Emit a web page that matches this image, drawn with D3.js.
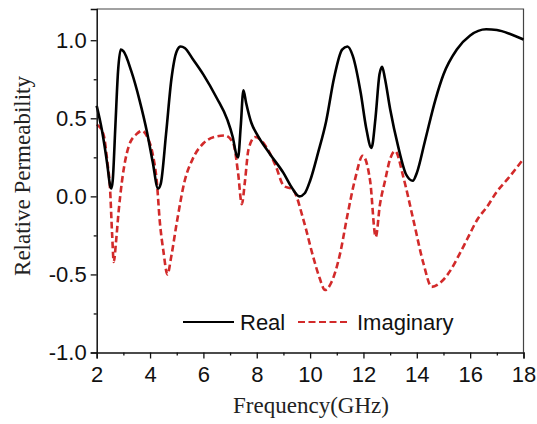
<!DOCTYPE html>
<html>
<head>
<meta charset="utf-8">
<script src="https://cdn.jsdelivr.net/npm/d3@7"></script>
<style>
  body { margin: 0; background: #fff; }
  .tick text { font-family: "Liberation Sans", Arial, sans-serif; font-size: 22px; fill: #111; }
</style>
</head>
<body>
<div id="chart"></div>
<script>
// frequency (GHz) and the two parts of the permeability
var realFreq = [2.0, 2.2, 2.4, 2.5, 2.55, 2.6, 2.7, 2.8, 2.9, 3.0, 3.3, 3.6, 3.9, 4.1, 4.3, 4.4, 4.6, 4.8, 5.0, 5.15,
  5.3, 5.6, 6.0, 6.5, 6.9, 7.1, 7.25, 7.3, 7.4, 7.5, 7.6, 7.8, 8.0, 8.5, 9.0, 9.3, 9.6, 9.8, 10.0, 10.3,
  10.6, 10.9, 11.2, 11.4, 11.6, 11.9, 12.1, 12.3, 12.45, 12.6, 12.7, 12.8, 13.0, 13.3, 13.6, 13.85, 14.0, 14.3, 14.7, 15.0,
  15.5, 16.0, 16.6, 17.0, 17.5, 18.0];
var realVal = [0.58, 0.42, 0.20, 0.07, 0.05, 0.10, 0.45, 0.80, 0.94, 0.93, 0.80, 0.62, 0.40, 0.22, 0.05, 0.08, 0.40, 0.75, 0.93, 0.96,
  0.95, 0.88, 0.78, 0.63, 0.49, 0.38, 0.26, 0.25, 0.45, 0.68, 0.60, 0.47, 0.40, 0.27, 0.15, 0.06, 0.0, 0.02, 0.10, 0.28,
  0.48, 0.76, 0.94, 0.96, 0.90, 0.66, 0.44, 0.31, 0.50, 0.78, 0.83, 0.76, 0.56, 0.32, 0.14, 0.10, 0.15, 0.35, 0.62, 0.78,
  0.94, 1.03, 1.07, 1.065, 1.04, 1.005];

var imagFreq = [2.0, 2.25, 2.4, 2.5, 2.58, 2.64, 2.72, 2.82, 2.95, 3.2, 3.5, 3.7, 3.9, 4.1, 4.25, 4.37, 4.5, 4.65, 4.8, 5.0,
  5.3, 5.6, 6.0, 6.4, 6.8, 7.12, 7.3, 7.44, 7.56, 7.69, 7.94, 8.3, 8.7, 9.0, 9.37, 9.75, 10.12, 10.35, 10.56, 10.8,
  11.12, 11.4, 11.7, 11.97, 12.25, 12.46, 12.62, 12.81, 13.0, 13.19, 13.5, 13.87, 14.25, 14.56, 14.9, 15.2, 15.6, 15.9, 16.3, 16.62,
  17.0, 17.4, 18.0];
var imagVal = [0.46, 0.40, 0.22, 0.05, -0.25, -0.42, -0.30, -0.10, 0.10, 0.32, 0.40, 0.42, 0.38, 0.27, 0.10, -0.17, -0.35, -0.50, -0.38, -0.17,
  0.10, 0.24, 0.34, 0.38, 0.39, 0.34, 0.15, -0.05, 0.10, 0.30, 0.38, 0.33, 0.20, 0.07, 0.04, -0.15, -0.39, -0.52, -0.60, -0.55,
  -0.37, -0.12, 0.12, 0.26, 0.10, -0.26, -0.05, 0.10, 0.24, 0.29, 0.12, -0.15, -0.43, -0.58, -0.55, -0.49, -0.37, -0.27, -0.14, -0.07,
  0.03, 0.11, 0.24];

var xMajor = [2, 4, 6, 8, 10, 12, 14, 16, 18];
var xMinor = [3, 5, 7, 9, 11, 13, 15, 17];
var yMajor = [-1.0, -0.5, 0.0, 0.5, 1.0];
var yMinor = [-0.75, -0.25, 0.25, 0.75];

var W = 537, H = 424;
var pLeft = 96.7, pRight = 523.5, pTop = 9, pBottom = 352.5;

var svg = d3.select("#chart").append("svg")
  .attr("width", W)
  .attr("height", H);

var x = d3.scaleLinear().domain([2, 18]).range([pLeft, pRight]);
var y = d3.scaleLinear().domain([-1, 1.2]).range([pBottom, pTop]);

// frame on top and right
svg.append("path")
  .attr("d", "M" + pLeft + "," + pTop + "H" + pRight + "V" + pBottom)
  .attr("fill", "none")
  .attr("stroke", "#444")
  .attr("stroke-width", 1.2);

var line = d3.line()
  .x(function(d) { return x(d[0]); })
  .y(function(d) { return y(d[1]); })
  .curve(d3.curveMonotoneX);

var imag = d3.zip(imagFreq, imagVal);
var real = d3.zip(realFreq, realVal);

svg.append("path")
  .datum(imag)
  .attr("d", line)
  .attr("fill", "none")
  .attr("stroke", "#d22a2a")
  .attr("stroke-width", 2.6)
  .attr("stroke-dasharray", "6.5,3.5");

svg.append("path")
  .datum(real)
  .attr("d", line)
  .attr("fill", "none")
  .attr("stroke", "#000")
  .attr("stroke-width", 2.6);

// axes: minor ticks first, then major with labels
var xMin = svg.append("g")
  .attr("transform", "translate(0," + pBottom + ")")
  .call(d3.axisBottom(x).tickValues(xMinor).tickSize(3).tickFormat(""));
var xAxis = svg.append("g")
  .attr("transform", "translate(0," + pBottom + ")")
  .call(d3.axisBottom(x).tickValues(xMajor).tickSize(6).tickPadding(8).tickFormat(d3.format("d")));

var yMin = svg.append("g")
  .attr("transform", "translate(" + pLeft + ",0)")
  .call(d3.axisLeft(y).tickValues(yMinor).tickSize(3).tickFormat(""));
var yAxis = svg.append("g")
  .attr("transform", "translate(" + pLeft + ",0)")
  .call(d3.axisLeft(y).tickValues(yMajor).tickSize(6).tickPadding(4)
    .tickFormat(function(d) { return d.toFixed(1); })); // plain hyphen like the original

svg.selectAll(".domain").attr("stroke", "#111").attr("stroke-width", 1.5);
svg.selectAll(".tick line").attr("stroke", "#111").attr("stroke-width", 1.3);
xMin.select(".domain").remove();
yMin.select(".domain").remove();

// axis titles
svg.append("text")
  .attr("x", 311)
  .attr("y", 413)
  .attr("text-anchor", "middle")
  .style("font-family", "'Liberation Serif', 'Times New Roman', serif")
  .style("font-size", "23px")
  .attr("fill", "#222")
  .text("Frequency(GHz)");

svg.append("text")
  .attr("transform", "translate(30,176) rotate(-90)")
  .attr("text-anchor", "middle")
  .style("font-family", "'Liberation Serif', 'Times New Roman', serif")
  .style("font-size", "23px")
  .attr("fill", "#222")
  .text("Relative Permeability");

// legend
var leg = svg.append("g").attr("transform", "translate(0,322)");
leg.append("line")
  .attr("x1", 183).attr("x2", 234)
  .attr("stroke", "#000").attr("stroke-width", 2);
leg.append("text")
  .attr("x", 240).attr("y", 7.5)
  .style("font-family", "'Liberation Sans', Arial, sans-serif")
  .style("font-size", "22px")
  .attr("fill", "#111")
  .text("Real");
leg.append("line")
  .attr("x1", 298).attr("x2", 348)
  .attr("stroke", "#d22a2a").attr("stroke-width", 2)
  .attr("stroke-dasharray", "7,3.5");
leg.append("text")
  .attr("x", 357).attr("y", 7.5)
  .style("font-family", "'Liberation Sans', Arial, sans-serif")
  .style("font-size", "22px")
  .attr("fill", "#111")
  .text("Imaginary");
</script>
</body>
</html>
